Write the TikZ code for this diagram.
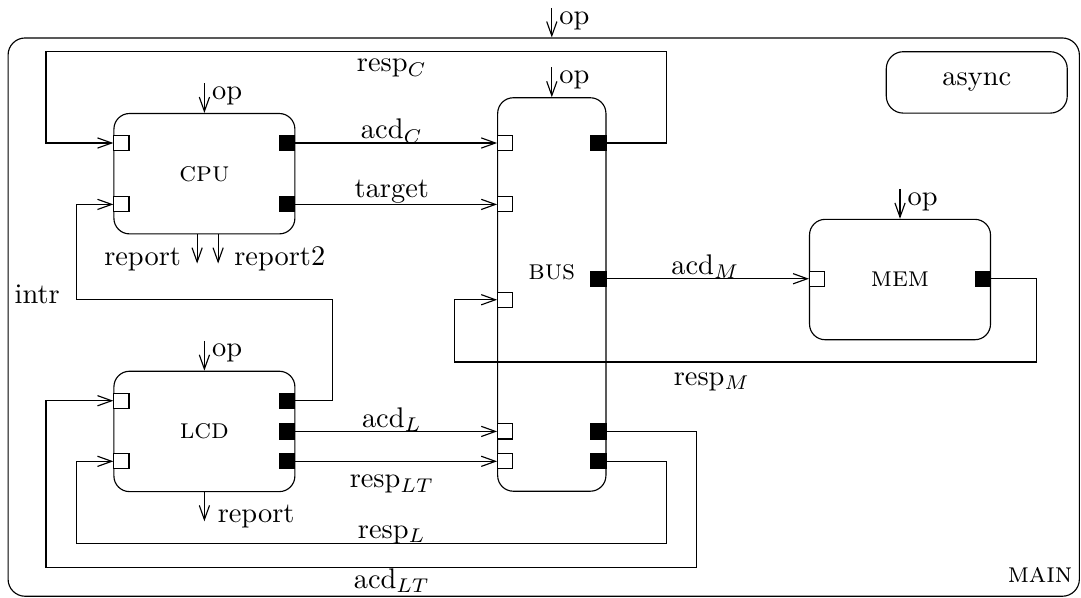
\documentclass[tikz,border=0pt]{standalone}
\usepackage{tikz}
\usetikzlibrary{positioning,arrows.meta,calc}

\begin{document}
\begin{tikzpicture}[
        block/.style={draw, rounded corners=5.5pt, minimum width=2.24cm, minimum height=1.49cm, font=\scshape},
        inport/.style={draw, fill=white, minimum size=5.3pt, inner sep=0pt},
        outport/.style={draw, fill=black, minimum size=5.3pt, inner sep=0pt},
        sig/.style={-{Straight Barb[length=5pt,width=3.6pt]}},
        oplbl/.style={anchor=north west, inner xsep=2.5pt, inner ysep=1pt},
        lbl/.style={anchor=base}]
    \useasboundingbox (0,0) rectangle (13.38,-7.39);
    \node[draw, rounded corners=6pt, minimum width=13.26cm, minimum height=6.91cm] (main) at (6.73,-3.925) {};
    \node[anchor=base east, inner sep=0pt, font=\scshape] (main-lbl) at (13.28,-7.21) {main};
    \node[draw, rounded corners=6pt, minimum width=2.24cm, minimum height=0.76cm] (async) at (12.09,-1.02) {async};

    \node[block] (cpu) at (2.53,-2.15) {cpu};
    \node[block] (lcd) at (2.53,-5.34) {lcd};
    \node[block] (mem) at (11.14,-3.46) {mem};
    \node[draw, rounded corners=5.5pt, minimum width=1.34cm, minimum height=4.87cm] (bus) at (6.83,-3.645) {};
    \node[anchor=base, font=\scshape] (bus-lbl) at (6.83,-3.46) {bus};

    \node[inport, anchor=west] (cpu-i1) at (cpu.west |- 0,-1.77) {};
    \node[inport, anchor=west] (cpu-i2) at (cpu.west |- 0,-2.53) {};
    \node[outport, anchor=east] (cpu-o1) at (cpu.east |- 0,-1.77) {};
    \node[outport, anchor=east] (cpu-o2) at (cpu.east |- 0,-2.53) {};
    \node[inport, anchor=west] (lcd-i1) at (lcd.west |- 0,-4.96) {};
    \node[inport, anchor=west] (lcd-i2) at (lcd.west |- 0,-5.71) {};
    \node[outport, anchor=east] (lcd-o1) at (lcd.east |- 0,-4.96) {};
    \node[outport, anchor=east] (lcd-o2) at (lcd.east |- 0,-5.34) {};
    \node[outport, anchor=east] (lcd-o3) at (lcd.east |- 0,-5.71) {};
    \node[inport, anchor=west] (bus-i1) at (bus.west |- 0,-1.77) {};
    \node[inport, anchor=west] (bus-i2) at (bus.west |- 0,-2.53) {};
    \node[inport, anchor=west] (bus-i3) at (bus.west |- 0,-3.71) {};
    \node[inport, anchor=west] (bus-i4) at (bus.west |- 0,-5.34) {};
    \node[inport, anchor=west] (bus-i5) at (bus.west |- 0,-5.71) {};
    \node[outport, anchor=east] (bus-o1) at (bus.east |- 0,-1.77) {};
    \node[outport, anchor=east] (bus-o2) at (bus.east |- 0,-3.45) {};
    \node[outport, anchor=east] (bus-o3) at (bus.east |- 0,-5.34) {};
    \node[outport, anchor=east] (bus-o4) at (bus.east |- 0,-5.71) {};
    \node[inport, anchor=west] (mem-i1) at (mem.west |- 0,-3.45) {};
    \node[outport, anchor=east] (mem-o1) at (mem.east |- 0,-3.45) {};

    \coordinate (op-main) at (6.83,-0.10);
    \draw[sig] (op-main) node[oplbl] {op} -- (op-main |- main.north);
    \draw[sig] ($(cpu.north)+(0,0.37)$) node[oplbl] {op} -- (cpu.north);
    \draw[sig] ($(bus.north)+(0,0.37)$) node[oplbl] {op} -- (bus.north);
    \draw[sig] ($(mem.north)+(0,0.37)$) node[oplbl] {op} -- (mem.north);
    \draw[sig] ($(lcd.north)+(0,0.37)$) node[oplbl] {op} -- (lcd.north);
    \draw[sig] ([xshift=-0.09cm]cpu.south) -- ++(0,-0.36) node[anchor=base east, inner xsep=5.5pt, yshift=-0.6pt] {report};
    \draw[sig] ([xshift=0.17cm]cpu.south) -- ++(0,-0.36) node[anchor=base west, inner xsep=5.5pt, yshift=-0.6pt] {report2};
    \draw[sig] (lcd.south) -- ++(0,-0.36) node[anchor=base west, inner xsep=4.5pt, yshift=-0.6pt] {report};

    \draw[sig] (cpu-o1) -- (bus-i1);
    \draw[sig] (cpu-o2) -- (bus-i2);
    \draw[sig] (bus-o2) -- (mem-i1);
    \draw[sig] (lcd-o2) -- (bus-i4);
    \draw[sig] (lcd-o3) -- (bus-i5);
    \draw[sig] (bus-o1.east) -| (8.25,-0.64) -| (0.57,-1.77) -- (cpu-i1.west);
    \draw[sig] (lcd-o1.east) -| (4.12,-3.71) -| (0.95,-2.53) -- (cpu-i2.west);
    \draw[sig] (mem-o1.east) -| (12.83,-4.48) -| (5.63,-3.71) -- (bus-i3.west);
    \draw[sig] (bus-o4.east) -| (8.25,-6.73) -| (0.95,-5.71) -- (lcd-i2.west);
    \draw[sig] (bus-o3.east) -| (8.62,-7.02) -| (0.57,-4.96) -- (lcd-i1.west);

    \node[lbl] (l-respc) at (4.85,-0.89) {resp$_C$};
    \node[lbl] (l-acdc) at (4.85,-1.72) {acd$_C$};
    \node[lbl] (l-target) at (4.85,-2.44) {target};
    \node[lbl] (l-intr) at (0.46,-3.76) {intr};
    \node[lbl] (l-acdm) at (8.73,-3.40) {acd$_M$};
    \node[lbl] (l-respm) at (8.81,-4.77) {resp$_M$};
    \node[lbl] (l-acdl) at (4.85,-5.29) {acd$_L$};
    \node[lbl] (l-resplt) at (4.85,-6.04) {resp$_{LT}$};
    \node[lbl] (l-respl) at (4.85,-6.66) {resp$_L$};
    \node[lbl] (l-acdlt) at (4.85,-7.28) {acd$_{LT}$};
\end{tikzpicture}
\end{document}
